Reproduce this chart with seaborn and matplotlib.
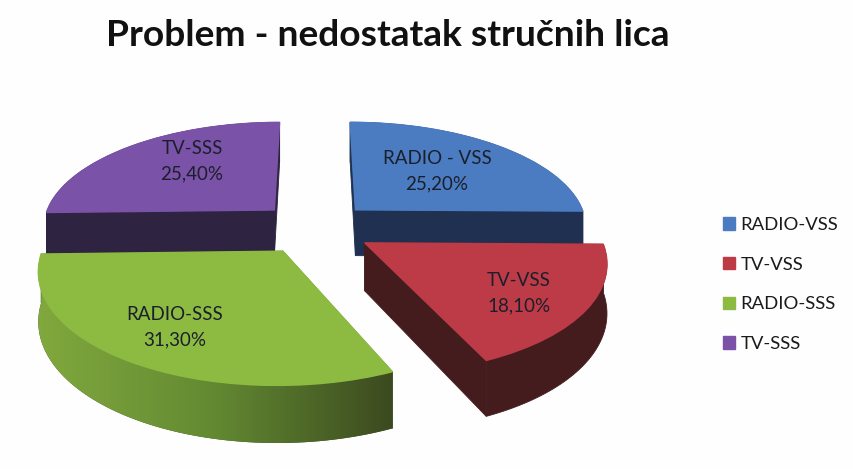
import numpy as np
import seaborn as sns
import matplotlib
matplotlib.use('Agg')
import matplotlib.pyplot as plt
from matplotlib.colors import LinearSegmentedColormap
from matplotlib.patches import Polygon
from matplotlib.transforms import Transform

# Data
legend_labels = ['RADIO-VSS', 'TV-VSS', 'RADIO-SSS', 'TV-SSS']
slice_names = ['RADIO - VSS', 'TV-VSS', 'RADIO-SSS', 'TV-SSS']
shares = [25.2, 18.1, 31.3, 25.4]
title = 'Problem - nedostatak stručnih lica'

# Style
top_colors = ['#4b7cc2', '#bd3b46', '#8dbb42', '#7a52a8']
wall_colors = ['#1f3050', '#451c1e', '#3c4f20', '#2e2340']
green_rim = ['#82aa3e', '#638a32', '#3b4a1f']
label_pos = [(437, 171), (519, 293), (175, 327), (192, 161)]
draw_order = [0, 3, 1, 2]

# Perspective of the pie plane, output in figure pixels
CX, CY, A, B, K, DEPTH = 315, 228, 233, 106, 0.152, 47


def project(x, y, z=0.0):
    w = 1 + K * np.asarray(y)
    return CX + A * np.asarray(x) / w, CY - B * np.asarray(y) / w + z / w


class PiePlane(Transform):
    input_dims = 2
    output_dims = 2
    has_inverse = False

    def transform_non_affine(self, values):
        values = np.asarray(values, dtype=float)
        px, py = project(values[:, 0], values[:, 1])
        return np.column_stack([px, py])


def wall(p, q):
    # quad (or strip) hanging under the top edge running through p/q points
    tx, ty = project(p, q)
    bx, by = project(p, q, DEPTH)
    return np.column_stack([np.r_[tx, bx[::-1]], np.r_[ty, by[::-1]]])


def main():
    sns.set_theme(style='white')
    plt.rcParams['font.family'] = ['Lato', 'DejaVu Sans']

    fig = plt.figure(figsize=(8.54, 4.69), dpi=100, facecolor='#fefefe')
    ax = fig.add_axes([0, 0, 1, 1])
    wedges, _ = ax.pie(shares, explode=[0.25] * len(shares), startangle=90,
                       counterclock=False, colors=sns.color_palette(top_colors),
                       wedgeprops={'linewidth': 0})
    ax.set_aspect('auto')
    plane = PiePlane() + ax.transData

    cmap = LinearSegmentedColormap.from_list('rim', green_rim)
    for i in draw_order:
        wd = wedges[i]
        cx, cy = wd.center
        th = np.radians(np.linspace(wd.theta1, wd.theta2, 80))
        arc_x, arc_y = cx + wd.r * np.cos(th), cy + wd.r * np.sin(th)
        faces = [
            (np.array([cx, arc_x[0]]), np.array([cy, arc_y[0]])),
            (np.array([cx, arc_x[-1]]), np.array([cy, arc_y[-1]])),
            (arc_x, arc_y),
        ]
        faces.sort(key=lambda f: -f[1].mean())
        z = 1 + draw_order.index(i) * 2
        for n, (fx, fy) in enumerate(faces):
            poly = Polygon(wall(fx, fy), closed=True, facecolor=wall_colors[i],
                           edgecolor=wall_colors[i], linewidth=0.6, zorder=z)
            ax.add_patch(poly)
            if i == 2 and len(fx) > 2:
                # the green rim goes darker from left to right
                poly.set_edgecolor('none')
                im = ax.imshow(np.linspace(0, 1, 256)[None, :], cmap=cmap, aspect='auto',
                               extent=(30, 394, 469, 200), zorder=z + 0.5)
                im.set_clip_path(poly)
        wd.set_transform(plane)
        wd.set_zorder(z + 1)
        # same colour edge so the dark wall does not peek out round the top face
        wd.set_edgecolor(top_colors[i])
        wd.set_linewidth(1.0)

    ax.set_xlim(0, 854)
    ax.set_ylim(469, 0)
    ax.axis('off')

    for name, share, (x, y), i in zip(slice_names, shares, label_pos, range(4)):
        txt = f'{share:.2f}'.replace('.', ',') + '%'
        ax.text(x, y, f'{name}\n{txt}', ha='center', va='center', fontsize=13.5,
                color='#1b1f2b', linespacing=1.6, zorder=20)

    ax.text(388, 36, title, ha='center', va='center', fontsize=26.7, fontweight='bold',
            color='#111111')

    ax.legend(wedges, legend_labels, loc='upper left', bbox_to_anchor=(723 / 854, 1 - 217 / 469),
              bbox_transform=ax.transAxes, frameon=False, fontsize=13.3, handlelength=0.65,
              handleheight=0.65, handletextpad=0.3, labelspacing=1.28, labelcolor='#1a1a1a',
              borderpad=0, borderaxespad=0)

    fig.savefig('out.png', dpi=100, facecolor=fig.get_facecolor())


if __name__ == '__main__':
    main()
